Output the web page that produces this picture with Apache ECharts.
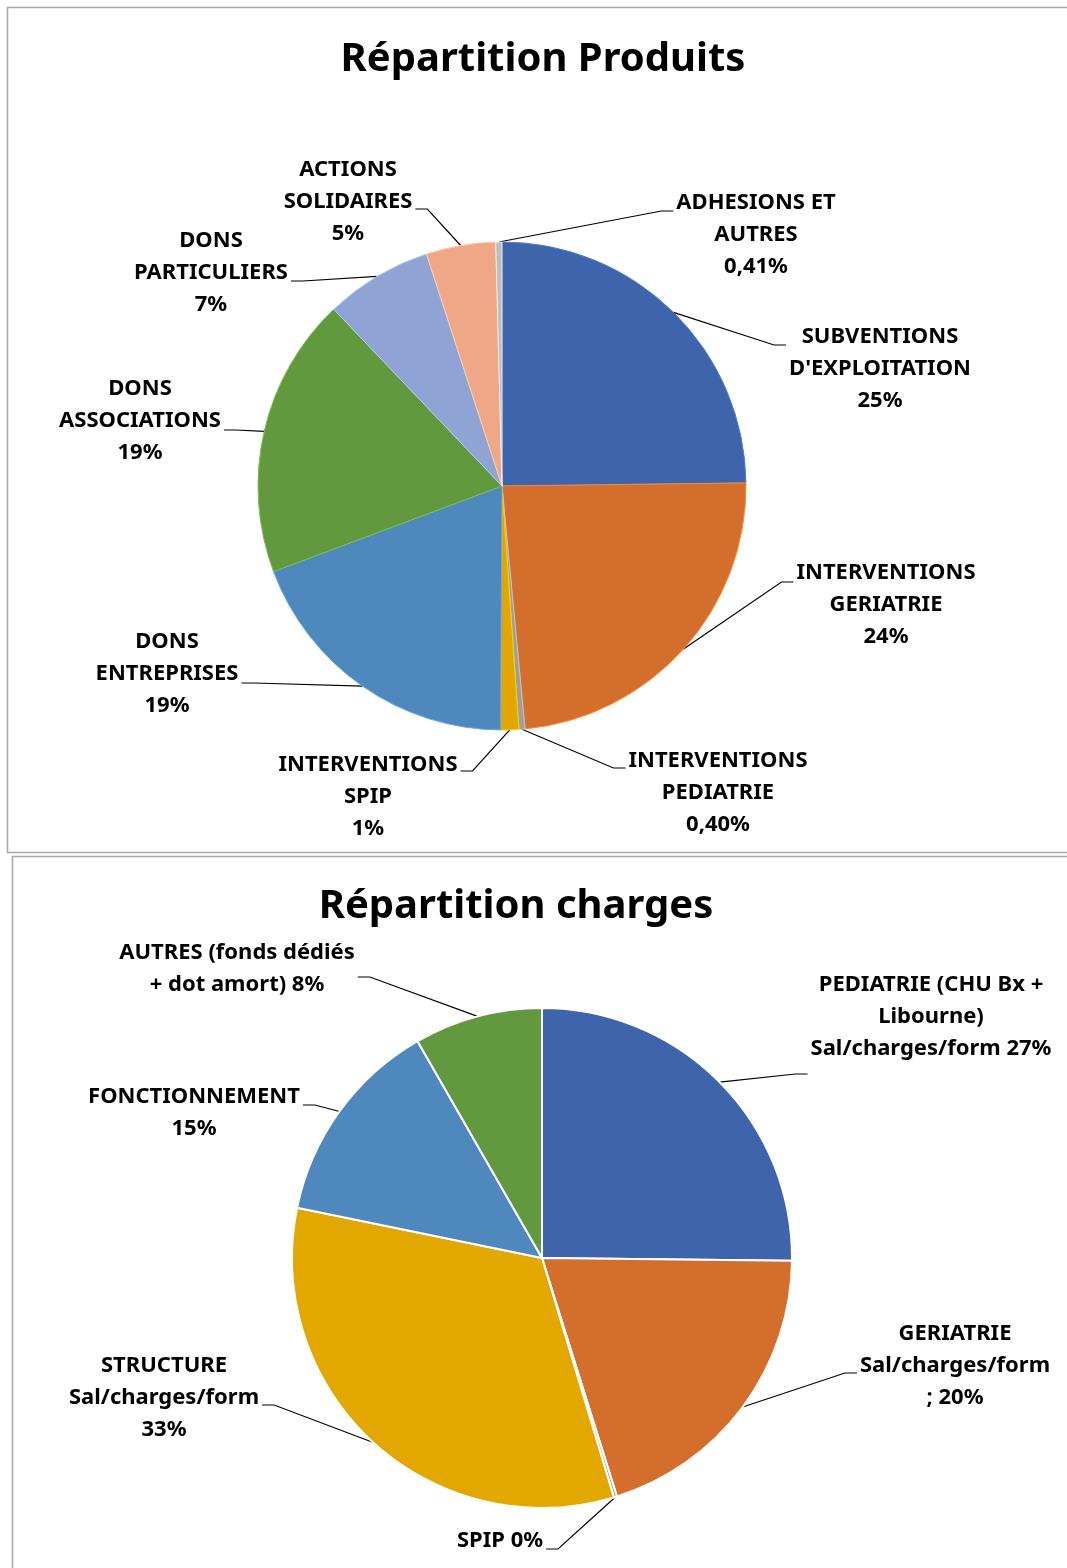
<!DOCTYPE html>
<html lang="fr">
<head>
<meta charset="UTF-8">
<title>Répartition Produits / charges</title>
<script src="https://cdn.jsdelivr.net/npm/echarts@6/dist/echarts.min.js"></script>
<style>html,body{margin:0;padding:0;background:#fff;}</style>
</head>
<body>
<div id="main" style="width:1067px;height:1568px;"></div>
<script>
// --- Répartition Produits (clockwise from 12 o'clock)
var produitsNoms = ['SUBVENTIONS\nD\'EXPLOITATION', 'INTERVENTIONS\nGERIATRIE', 'INTERVENTIONS\nPEDIATRIE',
    'INTERVENTIONS\nSPIP', 'DONS\nENTREPRISES', 'DONS\nASSOCIATIONS', 'DONS\nPARTICULIERS',
    'ACTIONS\nSOLIDAIRES', 'ADHESIONS ET\nAUTRES'];
var produitsValeurs = [24.8, 23.7, 0.40, 1.2, 19.2, 18.6, 7.1, 4.6, 0.41];
var produitsPct = ['\n25%', '\n24%', '\n0,40%', '\n1%', '\n19%', '\n19%', '\n7%', '\n5%', '\n0,41%'];

// --- Répartition charges
var chargesNoms = ['PEDIATRIE (CHU Bx +\nLibourne)\nSal/charges/form', 'GERIATRIE\nSal/charges/form', 'SPIP',
    'STRUCTURE\nSal/charges/form', 'FONCTIONNEMENT', 'AUTRES (fonds dédiés\n+ dot amort)'];
var chargesValeurs = [25.2, 20.0, 0.2, 32.9, 13.5, 8.3];
var chargesPct = [' 27%', '\n; 20%', ' 0%', '\n33%', '\n15%', ' 8%'];

var couleursProduits = ['#3E65AC', '#D36E2C', '#9E9E9E', '#E3A600', '#4E88BC', '#62993E', '#8FA3D5', '#F0A787', '#BEBEBE'];
var couleursCharges = ['#3E65AC', '#D36E2C', '#9E9E9E', '#E3A800', '#4E88BC', '#62993E'];

// label block centre x, centre y, y of the leader line end
var posProduits = [[880, 369, 345], [886, 605, 582], [718, 793, 768], [368, 797, 771], [167, 674, 683],
    [140, 421, 430], [211, 273, 281], [348, 202, 209], [756, 235, 211]];
var posCharges = [[931, 1017, 1074], [955, 1366, 1373], [500, 1541, 1549], [164, 1398, 1405],
    [194, 1113, 1105], [237, 969, 977]];

var police = "'Noto Sans', 'DejaVu Sans', sans-serif";

function placeLabels(pos, cx) {
    return function (params) {
        var p = pos[params.dataIndex];
        var w = params.labelRect.width;
        var droite = p[0] > cx;
        var endX = droite ? p[0] - w / 2 - 3 : p[0] + w / 2 + 3;
        var elbowX = droite ? endX - 12 : endX + 12;
        var start = params.labelLinePoints ? params.labelLinePoints[0] : [elbowX, p[2]];
        return {
            x: p[0], y: p[1], align: 'center', verticalAlign: 'middle',
            labelLinePoints: [start, [elbowX, p[2]], [endX, p[2]]]
        };
    };
}

function makeData(noms, valeurs, couleurs, bordure) {
    return noms.map(function (n, i) {
        return {
            name: n, value: valeurs[i],
            itemStyle: {
                color: couleurs[i],
                borderColor: bordure || echarts.color.lift(couleurs[i], -0.25),
                borderWidth: bordure ? 2 : 1
            }
        };
    });
}

var labelStyle = {
    show: true, position: 'outside', color: '#000', fontWeight: 'bold',
    fontFamily: police, fontSize: 22, lineHeight: 32
};

var myChart = echarts.init(document.getElementById('main'));
myChart.setOption({
    animation: false,
    backgroundColor: '#fff',
    title: [
        {text: 'Répartition Produits', left: 538, top: 35, textAlign: 'center',
            textStyle: {fontFamily: police, fontSize: 40, fontWeight: 'bold', color: '#000'}},
        {text: 'Répartition charges', left: 511, top: 882, textAlign: 'center',
            textStyle: {fontFamily: police, fontSize: 40, fontWeight: 'bold', color: '#000'}}
    ],
    graphic: [
        {type: 'rect', shape: {x: 7.5, y: 7.5, width: 1080, height: 845}, z: -1,
            style: {fill: 'none', stroke: '#A6A6A6', lineWidth: 1.5}},
        {type: 'rect', shape: {x: 12.5, y: 856.5, width: 1080, height: 730}, z: -1,
            style: {fill: 'none', stroke: '#A6A6A6', lineWidth: 1.5}}
    ],
    series: [
        {
            type: 'pie', center: [502, 486], radius: 244, startAngle: 90, clockwise: true,
            avoidLabelOverlap: false, silent: true,
            label: Object.assign({}, labelStyle, {
                formatter: function (p) { return p.name + produitsPct[p.dataIndex]; }
            }),
            labelLine: {show: true, length: 20, length2: 10, lineStyle: {color: '#000', width: 1.2}},
            labelLayout: placeLabels(posProduits, 502),
            data: makeData(produitsNoms, produitsValeurs, couleursProduits)
        },
        {
            type: 'pie', center: [542, 1258], radius: 250, startAngle: 90, clockwise: true,
            avoidLabelOverlap: false, silent: true,
            label: Object.assign({}, labelStyle, {
                formatter: function (p) { return p.name + chargesPct[p.dataIndex]; }
            }),
            labelLine: {show: true, length: 20, length2: 10, lineStyle: {color: '#000', width: 1.2}},
            labelLayout: placeLabels(posCharges, 542),
            data: makeData(chargesNoms, chargesValeurs, couleursCharges, '#fff')
        }
    ]
});
</script>
</body>
</html>
